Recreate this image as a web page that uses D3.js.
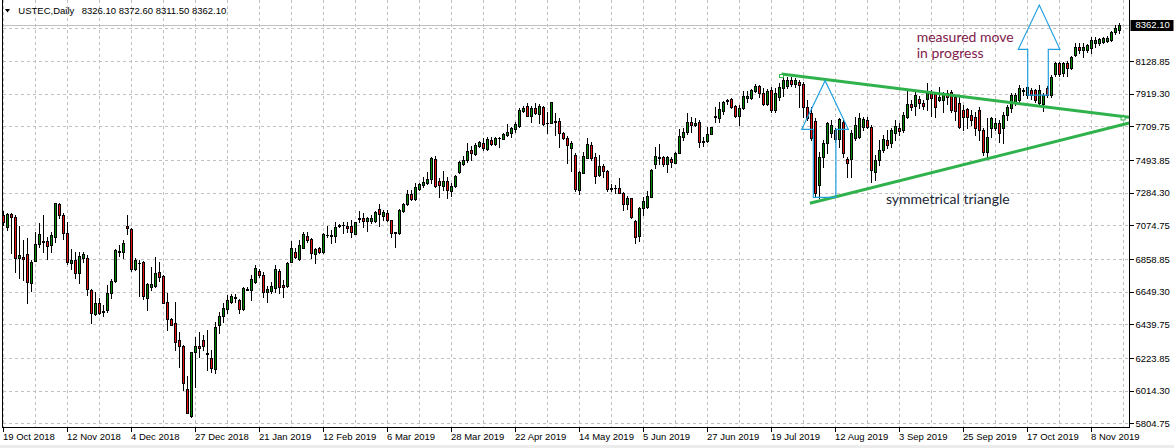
<!DOCTYPE html>
<html><head><meta charset="utf-8">
<script src="https://cdn.jsdelivr.net/npm/d3@7"></script>
<style>html,body{margin:0;padding:0;background:#fff;overflow:hidden}svg{display:block}</style>
</head><body>
<script>
// ---- data (daily bars, 19 Oct 2018 .. 19 Nov 2019) ----
const opens = [7141,7062,7147,7126,6867,6869,6891,6707,6848,6953,
6968,6974,6948,7002,7209,7141,7023,6835,6852,6767,
6863,6863,6660,6506,6574,6523,6531,6638,6717,6901,
6901,7070,7051,6792,6835,6839,6606,6681,6688,6773,
6750,6581,6472,6446,6339,6301,6023,5852,6264,6301,
6339,6254,6221,6155,6435,6493,6540,6585,6606,6593,
6536,6661,6660,6713,6784,6756,6645,6656,6675,6782,
6690,6688,6842,6906,6859,6931,7008,6987,6891,6927,
6903,7010,7012,7008,7070,7077,7072,7070,7019,7113,
7124,7102,7104,7104,7179,7134,7151,7107,7030,7023,
7169,7209,7273,7243,7308,7335,7348,7374,7500,7359,
7327,7359,7297,7329,7414,7468,7494,7558,7532,7586,
7600,7564,7622,7596,7635,7630,7654,7665,7692,7712,
7810,7840,7778,7825,7789,7836,7733,7733,7735,7744,
7669,7637,7573,7526,7301,7412,7509,7590,7511,7397,
7455,7425,7314,7312,7312,7280,7209,7248,7102,7008,
7188,7194,7258,7468,7513,7511,7468,7498,7476,7541,
7643,7671,7739,7718,7735,7615,7615,7660,7767,7765,
7810,7872,7883,7840,7776,7825,7889,7889,7938,7968,
7921,7853,7943,7814,7898,7955,7968,8007,7981,7994,
7981,7834,7795,7744,7333,7513,7603,7667,7686,7628,
7737,7500,7500,7635,7641,7705,7750,7705,7417,7494,
7558,7622,7603,7667,7699,7686,7769,7853,7840,7885,
7859,7885,7930,7917,7878,7878,7923,7930,7898,7859,
7814,7821,7782,7769,7814,7686,7545,7699,7699,7731,
7699,7782,7827,7859,7878,7936,7910,7942,7942,7859,
7853,7955,7910,8045,8116,8052,8116,8084,8167,8218,
8199,8199,8212,8244,8244,8250,8257,8263,8315,8326.1];
const highs = [7168,7151,7156,7141,7070,6980,6991,6852,7034,7087,
7141,7002,7034,7220,7220,7156,7098,6923,6906,6906,
6906,6884,6668,6649,6606,6564,6692,6728,6921,6948,
6980,7141,7060,6863,6852,6848,6703,6805,6869,6841,
6756,6643,6478,6585,6392,6307,6108,6264,6360,6392,
6371,6403,6275,6457,6521,6574,6628,6634,6634,6600,
6677,6681,6756,6820,6792,6777,6685,6713,6820,6792,
6724,6842,6976,6931,6981,7034,7034,6991,6927,6938,
7023,7070,7045,7098,7083,7098,7098,7109,7098,7169,
7151,7130,7141,7166,7211,7173,7173,7109,7034,7177,
7220,7301,7301,7344,7348,7387,7419,7515,7521,7376,
7423,7387,7344,7397,7489,7521,7600,7583,7600,7618,
7633,7643,7643,7643,7643,7669,7722,7707,7735,7825,
7840,7861,7840,7857,7851,7842,7799,7868,7797,7765,
7675,7648,7615,7536,7425,7547,7633,7611,7541,7526,
7466,7429,7338,7333,7376,7290,7263,7252,7109,7194,
7258,7297,7434,7579,7596,7519,7519,7511,7547,7690,
7697,7797,7772,7765,7750,7643,7703,7707,7831,7868,
7874,7885,7889,7846,7846,7938,7938,7947,7979,7975,
7953,7947,7964,7955,7987,8045,8026,8026,8019,8007,
7994,7878,7834,7763,7545,7622,7737,7750,7699,7763,
7750,7513,7686,7769,7795,7769,7769,7718,7526,7622,
7654,7686,7699,7750,7731,7801,7942,7878,7942,7904,
7878,7987,7942,7923,7962,7930,7942,7942,7910,7898,
7846,7827,7814,7801,7834,7699,7763,7769,7763,7750,
7801,7846,7923,7923,7975,7955,7968,7955,7949,7975,
7923,7968,8039,8122,8122,8122,8129,8161,8244,8244,
8244,8238,8282,8282,8276,8282,8289,8321,8359,8372.6];
const lows = [7077,7044,6900,6777,6734,6724,6574,6655,6848,6933,
6906,6861,6906,6970,7119,6985,6824,6797,6739,6702,
6841,6628,6446,6499,6506,6493,6521,6611,6713,6880,
6867,7017,6782,6788,6621,6602,6531,6660,6681,6720,
6574,6403,6435,6275,6168,6018,5869,5847,6040,6232,
6275,6147,6136,6130,6386,6457,6510,6574,6585,6514,
6531,6660,6596,6702,6741,6613,6585,6643,6649,6638,
6613,6681,6837,6863,6852,6927,6970,6863,6831,6895,
6899,7002,6963,6970,7066,7028,7034,7002,7017,7098,
7066,7040,7087,7098,7072,7109,7102,7002,6938,7019,
7162,7205,7237,7237,7301,7323,7337,7344,7323,7258,
7301,7252,7263,7323,7408,7462,7483,7494,7526,7579,
7558,7558,7590,7590,7579,7626,7648,7639,7675,7707,
7804,7776,7739,7789,7729,7718,7669,7729,7654,7575,
7626,7472,7425,7297,7276,7408,7504,7494,7348,7393,
7387,7297,7297,7284,7280,7173,7177,7124,6963,6976,
7141,7184,7254,7440,7466,7455,7419,7451,7472,7536,
7622,7660,7675,7712,7579,7583,7611,7658,7739,7735,
7786,7853,7829,7772,7718,7821,7868,7885,7932,7900,
7846,7846,7804,7801,7878,7904,7955,7968,7962,7834,
7769,7750,7622,7256,7250,7449,7538,7641,7609,7577,
7513,7385,7385,7622,7635,7686,7699,7353,7365,7462,
7545,7571,7577,7622,7654,7673,7763,7814,7782,7827,
7821,7814,7776,7769,7872,7801,7853,7801,7750,7699,
7686,7699,7718,7654,7622,7526,7507,7641,7686,7609,
7603,7750,7801,7846,7859,7910,7891,7885,7866,7846,
7808,7898,7898,8032,8032,8032,8032,8077,8161,8180,
8154,8186,8180,8218,8231,8244,8250,8257,8302,8311.5];
const closes = [7094,7145,7130,6867,6884,6861,6713,6841,6955,7019,
6971,6944,7012,7216,7141,7023,6837,6852,6771,6878,
6891,6664,6514,6574,6514,6521,6638,6717,6916,6910,
6959,7055,6794,6852,6831,6623,6698,6698,6767,6745,
6579,6472,6437,6324,6303,6061,5873,6260,6301,6286,
6303,6252,6162,6425,6493,6542,6596,6621,6617,6540,
6670,6664,6728,6799,6754,6645,6664,6685,6797,6677,
6677,6835,6927,6874,6948,7017,6980,6899,6921,6906,
7019,7012,7009,7066,7079,7075,7055,7034,7094,7119,
7104,7124,7119,7158,7145,7158,7107,7027,7023,7173,
7211,7273,7241,7318,7337,7352,7372,7509,7327,7333,
7359,7301,7329,7391,7483,7494,7553,7536,7590,7607,
7568,7626,7596,7635,7638,7660,7675,7701,7724,7814,
7829,7778,7829,7793,7842,7722,7729,7863,7744,7665,
7633,7590,7603,7305,7414,7521,7596,7504,7393,7453,
7425,7305,7310,7314,7284,7209,7252,7130,7002,7186,
7231,7263,7429,7519,7509,7468,7511,7483,7536,7648,
7675,7739,7718,7733,7607,7609,7660,7703,7776,7821,
7868,7876,7831,7776,7825,7906,7904,7943,7970,7921,
7851,7938,7814,7923,7962,8007,8007,7981,8007,7975,
7834,7763,7635,7282,7513,7603,7731,7718,7628,7757,
7538,7474,7667,7718,7763,7757,7705,7429,7494,7558,
7628,7590,7686,7712,7680,7782,7853,7834,7910,7859,
7840,7923,7891,7834,7898,7923,7898,7814,7808,7705,
7769,7769,7750,7699,7686,7545,7641,7763,7731,7667,
7782,7834,7910,7910,7955,7942,7962,7910,7878,7942,
7910,7910,8026,8116,8045,8116,8084,8154,8218,8199,
8218,8231,8263,8263,8270,8276,8276,8315,8340,8362.1];

const dateLabels = ["19 Oct 2018","12 Nov 2018","4 Dec 2018","27 Dec 2018","21 Jan 2019","12 Feb 2019",
  "6 Mar 2019","28 Mar 2019","22 Apr 2019","14 May 2019","5 Jun 2019","27 Jun 2019","19 Jul 2019",
  "12 Aug 2019","3 Sep 2019","25 Sep 2019","17 Oct 2019","8 Nov 2019"];
const barsPerLabel = 16;
const barsPerGrid = 8;
const gridPrices = [8338.40,8128.85,7919.30,7709.75,7493.85,7284.30,7074.75,6858.85,6649.30,6439.75,6223.85,6014.30,5804.75];
const priceLabels = [8128.85,7919.30,7709.75,7493.85,7284.30,7074.75,6858.85,6649.30,6439.75,6223.85,6014.30,5804.75];
const symbolName = "USTEC,Daily";
const lastBar = [8326.10, 8372.60, 8311.50, 8362.10];

// annotations in (bar index, price)
const upperTrend = [[194.5, 8045], [281.4, 7768]];
const upperAnchors = [[194.5, 8045], [279.9, 7773]];
const lowerTrend = [[201.6, 7216], [281.4, 7731]];
const leftArrow = [[202.45,7254.3],[202.45,7690.5],[199.55,7690.5],[205.4,8002.2],[211.2,7690.5],[208.1,7690.5],[208.1,7254.3]];
const rightArrow = [[256.05,7910.5],[256.05,8203.6],[253.7,8203.6],[258.95,8487.7],[264.1,8203.6],[261.2,8203.6],[261.2,7910.5]];
const notes = [
  {text:"measured move", at:[228.3, 8252], color:"#80204a"},
  {text:"in progress", at:[228.3, 8146], color:"#80204a"},
  {text:"symmetrical triangle", at:[220.6, 7211], color:"#1a2535"}
];

// ---- drawing ----
const W = 1174, H = 448;
const plotL = 2.5, plotR = 1129.5, axisY = 427.5;
const svg = d3.select("body").append("svg").attr("width", W).attr("height", H)
  .style("font-family", "'Liberation Sans', Arial, sans-serif");
svg.append("rect").attr("width", W).attr("height", H).attr("fill", "#fff");
svg.append("rect").attr("x",0).attr("y",445).attr("width",W).attr("height",3).attr("fill","#ececec");

const n = opens.length;
const x = d3.scaleLinear().domain([0, n - 1]).range([3.5, 3.5 + 4 * (n - 1)]);
const y = d3.scaleLinear().domain([5804.75, 8128.85]).range([423.3, 61]);
const py = v => Math.round(y(v)) + 0.5;

// grid
const grid = svg.append("g").attr("stroke", "#c0c0c0").attr("stroke-dasharray", "3,3").attr("shape-rendering","crispEdges");
grid.selectAll("line.h").data(gridPrices).join("line").attr("class","h")
  .attr("x1", plotL).attr("x2", plotR).attr("y1", d => py(d)).attr("y2", d => py(d));
grid.selectAll("line.v").data(d3.range(0, n + 2, barsPerGrid)).join("line").attr("class","v")
  .attr("x1", d => x(d)).attr("x2", d => x(d)).attr("y1", 0).attr("y2", axisY);

// bid line
svg.append("line").attr("x1", plotL).attr("x2", plotR).attr("y1", py(lastBar[3])).attr("y2", py(lastBar[3]))
  .attr("stroke", "#c0c0c0").attr("shape-rendering","crispEdges");

// candles
const bars = d3.range(n).map(i => ({i, o: opens[i], h: highs[i], l: lows[i], c: closes[i]}));
const cg = svg.append("g").attr("shape-rendering", "crispEdges");
cg.selectAll("line.w").data(bars).join("line").attr("class","w")
  .attr("x1", d => x(d.i)).attr("x2", d => x(d.i))
  .attr("y1", d => Math.round(y(d.h))).attr("y2", d => Math.round(y(d.l)) + 1)
  .attr("stroke", "#000");
bars.forEach(d => {
  const top = Math.round(y(Math.max(d.o, d.c)));
  const bot = Math.round(y(Math.min(d.o, d.c)));
  if (bot - top < 1) {
    cg.append("line").attr("x1", x(d.i) - 1.5).attr("x2", x(d.i) + 1.5)
      .attr("y1", top + 0.5).attr("y2", top + 0.5).attr("stroke", "#000");
  } else {
    cg.append("rect").attr("x", x(d.i) - 1).attr("width", 2)
      .attr("y", top + 0.5).attr("height", bot - top)
      .attr("fill", d.c >= d.o ? "#008a00" : "#e81010").attr("stroke", "#000");
  }
});

// trend lines
const ln = d3.line().x(d => x(d[0])).y(d => y(d[1]));
const green = "#2fb24b";
svg.append("path").attr("d", ln(upperTrend)).attr("stroke", green).attr("stroke-width", 3).attr("fill", "none");
svg.append("path").attr("d", ln(lowerTrend)).attr("stroke", green).attr("stroke-width", 3).attr("fill", "none");
svg.selectAll("rect.anc").data(upperAnchors).join("rect").attr("class","anc")
  .attr("x", d => x(d[0]) - 2).attr("y", d => y(d[1]) + 0.5).attr("width", 4).attr("height", 3)
  .attr("fill", "#fff").attr("stroke", green).attr("stroke-width", 1);

// arrows
[leftArrow, rightArrow].forEach(a => {
  svg.append("path").attr("d", ln(a) + "Z").attr("fill", "none")
    .attr("stroke", "#22a0e0").attr("stroke-width", 1.2);
});

// notes
svg.selectAll("text.note").data(notes).join("text").attr("class","note")
  .attr("x", d => x(d.at[0])).attr("y", d => y(d.at[1]))
  .attr("fill", d => d.color).style("font-family", "Lato, 'Open Sans', sans-serif")
  .style("font-size", "14px").text(d => d.text);

// frame
const frame = svg.append("g").attr("stroke", "#000").attr("shape-rendering","crispEdges");
frame.append("line").attr("x1", plotL).attr("x2", plotL).attr("y1", 0).attr("y2", axisY);
frame.append("line").attr("x1", plotL).attr("x2", plotR).attr("y1", axisY).attr("y2", axisY);
frame.append("line").attr("x1", plotR).attr("x2", plotR).attr("y1", 0).attr("y2", axisY + 0.5);

// y axis
const yAxis = d3.axisRight(y).tickValues(priceLabels).tickFormat(d3.format(".2f"))
  .tickSize(4).tickPadding(2).offset(0);
const yg = svg.append("g").attr("transform", `translate(${plotR},0.5)`).call(yAxis);
yg.select(".domain").remove();
yg.selectAll("line").attr("stroke", "#000").attr("shape-rendering","crispEdges");
yg.selectAll("text").attr("fill", "#000").style("font-size", "9.5px").style("font-family","'Liberation Sans', Arial, sans-serif");

// bid box
const by = y(lastBar[3]);
svg.append("rect").attr("x", plotR + 1).attr("y", Math.round(by) - 5).attr("width", 43).attr("height", 11).attr("fill", "#000");
svg.append("text").attr("x", plotR + 6).attr("y", by).attr("dy", "0.35em").attr("fill", "#fff")
  .style("font-size", "9.5px").text(d3.format(".2f")(lastBar[3]));

// x axis
const labelIdx = dateLabels.map((d, k) => k * barsPerLabel);
const xAxis = d3.axisBottom(x).tickValues(labelIdx).tickFormat((d, k) => dateLabels[k])
  .tickSize(4).offset(0);
const xg = svg.append("g").attr("transform", `translate(0,${axisY})`).call(xAxis);
xg.select(".domain").remove();
xg.selectAll("line").attr("stroke", "#000").attr("shape-rendering","crispEdges");
xg.selectAll("text").attr("text-anchor", "start").attr("x", -0.5).attr("y", 12.5).attr("dy", null)
  .attr("fill", "#000").style("font-size", "9.5px").style("font-family","'Liberation Sans', Arial, sans-serif");

// header
svg.append("path").attr("d", "M5,9 L10,9 L7.5,12.5 Z").attr("fill", "#000");
svg.append("text").attr("x", 18.3).attr("y", 13.5).style("font-size", "9.5px").attr("fill", "#000").text(symbolName);
svg.append("text").attr("x", 81.7).attr("y", 13.5).style("font-size", "9.5px").attr("fill", "#000")
  .text(lastBar.map(d3.format(".2f")).join(" "));
</script>
</body></html>
